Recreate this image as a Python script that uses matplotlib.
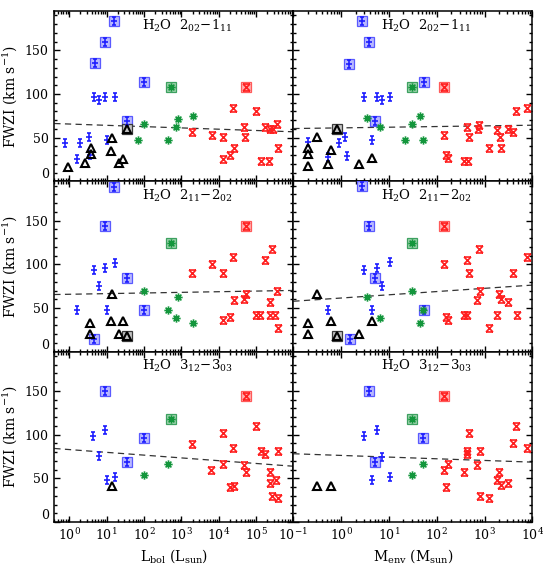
import numpy as np
import matplotlib
matplotlib.use('Agg')
import matplotlib.pyplot as plt
from matplotlib.path import Path
from matplotlib.ticker import LogLocator, MultipleLocator, LogFormatterMathtext, NullFormatter, FixedLocator

plt.rcParams['font.family'] = 'DejaVu Serif'
plt.rcParams['mathtext.fontset'] = 'dejavuserif'

# each point: (x, FWZI, boxed)
# ---- H2O 2_02-1_11 vs L_bol
l202_blue = [(15.8, 184, 1), (9.1, 159.5, 1), (5.0, 135.5, 1), (100, 113.5, 1), (36, 69, 1),
             (4.5, 96, 0), (6.2, 93.5, 0), (9.3, 96, 0), (16.9, 96, 0), (0.78, 44, 0),
             (1.9, 44, 0), (3.3, 50.5, 0), (1.6, 26, 0), (10, 47.5, 0), (3.6, 30, 0)]
l202_black = [(0.9, 16.5, 0), (2.6, 20.5, 0), (3.8, 38, 0), (3.8, 31.5, 0), (14, 50, 0),
              (13.5, 34.5, 0), (22, 20.5, 0), (28, 26, 0), (36, 59.5, 1)]
l202_green = [(547, 108, 1), (98, 66, 0), (71, 47.5, 0), (437, 47.5, 0), (807, 71, 0),
              (725, 62.5, 0), (2030, 74.5, 0)]
l202_red = [(53700, 108, 1), (1950, 57, 0), (6500, 53, 0), (13300, 50.5, 0), (24000, 84, 0),
            (25100, 38, 0), (20500, 30, 0), (13300, 26, 0), (46500, 62.5, 0), (51500, 50.5, 0),
            (100000, 80.5, 0), (137000, 23.5, 0), (225000, 23.5, 0), (172000, 62.5, 0),
            (240000, 59.5, 0), (288000, 59.5, 0), (361000, 65.5, 0), (383000, 38.5, 0)]
# ---- H2O 2_02-1_11 vs M_env
m202_blue = [(2.7, 184, 1), (3.86, 159, 1), (1.49, 134.5, 1), (53.7, 114, 1), (5.1, 68.5, 1),
             (3.08, 96, 0), (5.6, 96, 0), (7.1, 93.5, 0), (10.6, 96, 0), (0.2, 44.5, 0),
             (0.91, 44, 0), (1.23, 51, 0), (1.34, 29.5, 0), (0.52, 27.5, 0), (4.4, 47.5, 0)]
m202_black = [(0.2, 17, 0), (0.2, 38.5, 0), (0.2, 31, 0), (0.31, 50.5, 0), (0.61, 35.5, 0),
              (0.52, 20, 0), (2.34, 20, 0), (4.5, 26.5, 0), (0.82, 59.5, 1)]
m202_green = [(31, 108, 1), (3.5, 72, 0), (6.5, 62.5, 0), (31, 66, 0), (45.6, 74.5, 0),
              (21.5, 47.5, 0), (51, 47.5, 0)]
m202_red = [(141, 108, 1), (143, 53, 0), (157, 30, 0), (171, 27, 0), (380, 23, 0), (447, 23, 0),
            (426, 62.5, 0), (483, 50.5, 0), (760, 64.5, 0), (746, 59.5, 0), (1210, 38.5, 0),
            (1860, 59, 0), (2130, 50.5, 0), (2220, 38.5, 0), (3080, 59.5, 0), (3900, 57, 0),
            (4580, 81, 0), (7800, 84, 0)]

# ---- H2O 2_11-2_02 vs L_bol
l211_blue = [(15.8, 189, 1), (9.1, 144, 1), (34.5, 84.5, 1), (100, 47.5, 1), (4.6, 15, 1),
             (4.5, 93, 0), (6.2, 75.5, 0), (9.3, 96, 0), (16.9, 102, 0), (1.6, 47.5, 0),
             (10.3, 47.5, 0)]
l211_black = [(3.7, 32.5, 0), (3.7, 20.5, 0), (14.1, 66, 0), (13.5, 35.5, 0), (27.6, 35.5, 0),
              (21.5, 20.5, 0), (36, 17.5, 1)]
l211_green = [(547, 124, 1), (100, 69, 0), (437, 48, 0), (807, 63, 0), (725, 39, 0), (2030, 32.5, 0)]
l211_red = [(53700, 144, 1), (1950, 90, 0), (6500, 100.5, 0), (13300, 90.5, 0), (24000, 108.5, 0),
            (26000, 59.5, 0), (20500, 40, 0), (13300, 36, 0), (46500, 60.5, 0), (53700, 66, 0),
            (100000, 42, 0), (129000, 42, 0), (172000, 105.5, 0), (233000, 57, 0),
            (276000, 117.5, 0), (240000, 42, 0), (325000, 42, 0), (364000, 69, 0), (390000, 27, 0)]
# ---- H2O 2_11-2_02 vs M_env
m211_blue = [(2.7, 190, 1), (3.86, 144, 1), (5.2, 84.5, 1), (53.7, 47.5, 1), (1.52, 14, 1),
             (3.08, 93, 0), (5.66, 96, 0), (7.2, 75, 0), (10.6, 102.5, 0), (0.52, 48, 0),
             (4.5, 48, 0)]
m211_black = [(0.2, 32.5, 0), (0.2, 20.5, 0), (0.31, 65.5, 0), (0.61, 35.5, 0), (2.34, 20.5, 0),
              (4.5, 35.5, 0), (0.82, 17.5, 1)]
m211_green = [(31, 124, 1), (3.56, 63, 0), (31, 69, 0), (51, 47.5, 0), (6.5, 39, 0), (45.6, 32.5, 0)]
m211_red = [(141, 144, 1), (143, 100.5, 0), (432, 105.5, 0), (483, 90.5, 0), (760, 117.5, 0),
            (155, 40, 0), (176, 36, 0), (373, 42, 0), (437, 42, 0), (785, 69, 0), (710, 59.5, 0),
            (1210, 27, 0), (1830, 42, 0), (2050, 66, 0), (2180, 60.5, 0), (3080, 57, 0),
            (3900, 90.5, 0), (4700, 42, 0), (7640, 108.5, 0)]

# ---- H2O 3_12-3_03 vs L_bol
l312_blue = [(9.1, 150.5, 1), (100, 96, 1), (36, 68.5, 1), (4.46, 98.5, 0), (9.3, 105, 0),
             (6.1, 75, 0), (10, 47.5, 0), (16.9, 51, 0)]
l312_black = [(14.3, 41, 0)]
l312_green = [(547, 117.5, 1), (98, 54, 0), (437, 66, 0)]
l312_red = [(53700, 144, 1), (1950, 89.5, 0), (6350, 59.5, 0), (13300, 102, 0), (13300, 66, 0),
            (23600, 85, 0), (20500, 39.5, 0), (25100, 41.5, 0), (46500, 65.5, 0), (53700, 57, 0),
            (100000, 110, 0), (137000, 81, 0), (172000, 78, 0), (233000, 57, 0), (240000, 44.5, 0),
            (276000, 30, 0), (340000, 47.5, 0), (383000, 81, 0), (390000, 27, 0)]
# ---- H2O 3_12-3_03 vs M_env
m312_blue = [(3.86, 150.5, 1), (52.6, 96, 1), (5.2, 68.5, 1), (3.08, 98.5, 0), (5.6, 105, 0),
             (7.2, 74.5, 0), (4.5, 47.5, 0), (10.6, 51, 0)]
m312_black = [(0.31, 41, 0), (0.61, 41, 0)]
m312_green = [(31, 117.5, 1), (31, 54, 0), (51, 66, 0)]
m312_red = [(141, 144, 1), (141, 59.5, 0), (176, 66, 0), (157, 39.5, 0), (380, 57, 0), (426, 77.5, 0),
            (437, 81, 0), (475, 101.5, 0), (785, 81, 0), (700, 65.5, 0), (785, 30, 0), (1210, 27, 0),
            (2050, 57, 0), (1820, 47.5, 0), (2180, 42, 0), (3080, 44.5, 0), (3900, 90, 0),
            (4580, 110, 0), (7800, 85, 0)]

# linear fits FWZI = a + b*log10(x)
fit_lbol = [(65.6, -1.48), (65.7, 0.73), (82.9, -3.18)]
fit_menv = [(61.2, 0.76), (61.4, 3.7), (76.2, -1.92)]

line_names = [r'H$_2$O  2$_{02}$$-$1$_{11}$', r'H$_2$O  2$_{11}$$-$2$_{02}$',
              r'H$_2$O  3$_{12}$$-$3$_{03}$']

lbol_ticks = [1, 10, 100, 1e3, 1e4, 1e5]
menv_ticks = [0.1, 1, 10, 100, 1e3, 1e4]

# custom IDL-ish symbols
plus_bar = Path([(0, -1), (0, 1), (-0.8, 0), (0.8, 0), (-0.5, 1), (0.5, 1), (-0.5, -1), (0.5, -1)],
                [Path.MOVETO, Path.LINETO] * 4)
hourglass = Path([(-1, -1), (1, 1), (-1, 1), (1, -1), (-1, 1), (1, 1), (-1, -1), (1, -1)],
                 [Path.MOVETO, Path.LINETO] * 4)
aster = Path([(-1, 0), (1, 0), (0, -1), (0, 1), (-0.7, -0.7), (0.7, 0.7), (-0.7, 0.7), (0.7, -0.7)],
             [Path.MOVETO, Path.LINETO] * 4)

styles = {
    'blue': dict(marker=plus_bar, color='#1f1fff', ms=5.5, face='#b8b8ff', edge='#5a5aff'),
    'black': dict(marker='^', color='black', ms=5.2, face='#c4c4c4', edge='#3a3a3a'),
    'green': dict(marker=aster, color='#13963c', ms=6, face='#9fd3ae', edge='#3da160'),
    'red': dict(marker=hourglass, color='#ff1f1f', ms=5, face='#ffb0b0', edge='#ff5a5a'),
}


def plot_group(ax, pts, key):
	st = styles[key]
	pts = np.array(pts, dtype=float)
	box = pts[pts[:, 2] == 1]
	if len(box):
		ax.plot(box[:, 0], box[:, 1], 's', ms=7.8, mfc=st['face'], mec=st['edge'], mew=0.9, zorder=3)
	if key == 'black':
		ax.plot(pts[:, 0], pts[:, 1], '^', ms=st['ms'], mfc='none', mec='black', mew=1.5, zorder=4)
	else:
		ax.plot(pts[:, 0], pts[:, 1], ls='none', marker=st['marker'], ms=st['ms'],
				mec=st['color'], mfc=st['color'], mew=1.2, zorder=4)


def style_axes(ax, xlim, ticks, show_ylabels):
	ax.set_xscale('log')
	ax.set_xlim(*xlim)
	ax.set_ylim(0, 195)
	ax.xaxis.set_major_locator(FixedLocator(ticks))
	ax.xaxis.set_minor_locator(LogLocator(base=10, subs=np.arange(2, 10), numticks=50))
	ax.xaxis.set_minor_formatter(NullFormatter())
	ax.yaxis.set_major_locator(MultipleLocator(50))
	ax.yaxis.set_minor_locator(MultipleLocator(10))
	ax.tick_params(which='both', direction='in', top=True, right=True, width=1.0, labelsize=9)
	ax.tick_params(which='major', length=4.5, pad=4)
	ax.tick_params(which='minor', length=2.2)
	for s in ax.spines.values():
		s.set_linewidth(1.1)
	if not show_ylabels:
		ax.set_yticklabels([])


fig = plt.figure(figsize=(5.43, 5.67), dpi=100)
x0, w = 0.1, 0.4402
y_top, h = 0.9806, 0.3004

rows = [(l202_blue, l202_black, l202_green, l202_red, m202_blue, m202_black, m202_green, m202_red),
        (l211_blue, l211_black, l211_green, l211_red, m211_blue, m211_black, m211_green, m211_red),
        (l312_blue, l312_black, l312_green, l312_red, m312_blue, m312_black, m312_green, m312_red)]

lbol_lim = (10 ** -0.4, 1e6)
menv_lim = (0.1, 1e4)

for i, row in enumerate(rows):
	bottom = y_top - (i + 1) * h
	axl = fig.add_axes([x0, bottom, w, h])
	axr = fig.add_axes([x0 + w, bottom, w, h])
	for ax, groups, lim, fit in ((axl, row[:4], lbol_lim, fit_lbol[i]), (axr, row[4:], menv_lim, fit_menv[i])):
		xx = np.logspace(np.log10(lim[0]), np.log10(lim[1]), 50)
		ax.plot(xx, fit[0] + fit[1] * np.log10(xx), ls=(0, (5, 3.5)), color='#333333', lw=0.9, zorder=2)
		for pts, key in zip(groups, ['blue', 'black', 'green', 'red']):
			plot_group(ax, pts, key)
		ax.text(0.555, 0.915, line_names[i], transform=ax.transAxes, ha='center', va='center', fontsize=9.5)
	style_axes(axl, lbol_lim, lbol_ticks, True)
	style_axes(axr, menv_lim, menv_ticks, False)
	axl.set_ylabel(r'FWZI (km s$^{-1}$)', fontsize=10, labelpad=4)
	if i < 2:
		axl.set_xticklabels([])
		axr.set_xticklabels([])
	else:
		axl.set_xlabel(r'L$_{\rm bol}$ (L$_{\rm sun}$)', fontsize=10, labelpad=3)
		axr.set_xlabel(r'M$_{\rm env}$ (M$_{\rm sun}$)', fontsize=10, labelpad=3)
		axl.xaxis.set_major_formatter(LogFormatterMathtext())
		axr.xaxis.set_major_formatter(LogFormatterMathtext())
	# lift the "0" label as IDL does
	fig.canvas.draw()
	for t in axl.get_yticklabels():
		if t.get_position()[1] == 0:
			t.set_va('bottom')

fig.savefig('out.png', dpi=100)
